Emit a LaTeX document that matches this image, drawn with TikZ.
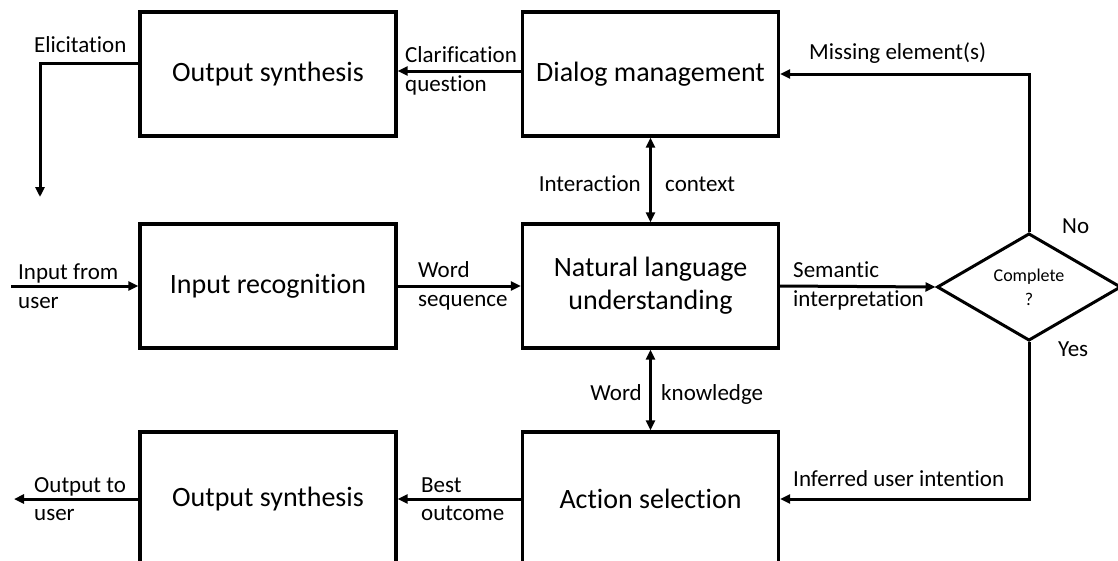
\documentclass[tikz,border=0pt]{standalone}
\usepackage{fontspec}
\setmainfont{Carlito}[Ligatures={NoCommon}]
\usetikzlibrary{arrows.meta,shapes.geometric}
\begin{document}
\begin{tikzpicture}[x=1pt,y=-1pt,
  box/.style={draw,line width=3.2pt,minimum width=256pt,minimum height=124pt,inner sep=0pt,
    align=center,font=\fontsize{28}{33}\selectfont},
  lbl/.style={inner sep=0pt,align=left,font=\fontsize{23}{28.5}\selectfont},
  conn/.style={line width=3pt,-{Triangle[length=10pt,width=9pt]}},
  dconn/.style={line width=3pt,{Triangle[length=10pt,width=9pt]}-{Triangle[length=10pt,width=9pt]}},
  plain/.style={line width=3pt}]
\useasboundingbox (0,0) rectangle (1118,560);
\clip (0,0) rectangle (1118,560);
% boxes
\node[box] (os1) at (268,74) {Output synthesis};
\node[box] (dm) at (650.5,74) {Dialog management};
\node[box] (ir) at (268,286) {Input recognition};
\node[box] (nlu) at (650.5,286) {Natural language\\understanding};
\node[box,minimum height=134pt] (os2) at (268,499) {Output synthesis};
\node[box,minimum height=134pt] (as) at (650.5,499) {Action selection};
\node[draw,diamond,line width=3pt,minimum width=184pt,minimum height=103pt,inner sep=0pt,
  align=center,font=\fontsize{18}{24}\selectfont] (dia) at (1029,287) {Complete\\?};
% free ends
\coordinate (elic) at (40,197);
\coordinate (inp) at (11,286);
\coordinate (outp) at (14,499);
% connectors
\draw[conn] ([yshift=3pt]dm.west) -- ([yshift=3pt]os1.east);
\draw[conn] ([yshift=11pt]os1.west) -| (elic);
\draw[dconn] (dm.south) -- (nlu.north);
\draw[dconn] (nlu.south) -- (as.north);
\draw[conn] (inp) -- (ir.west);
\draw[conn] (ir.east) -- (nlu.west);
\draw[conn] (nlu.east) -- (dia.west);
\draw[conn] (dia.north) |- (dm.east);
\draw[conn] (dia.south) |- (as.east);
\draw[conn] (as.west) -- (os2.east);
\draw[conn] (os2.west) -- (outp);
% labels
\node[lbl,anchor=base west] (l1) at (34,52) {Elicitation};
\node[lbl,anchor=west] (l2) at (405,71) {Clarification\\question};
\node[lbl,anchor=base west] (l3) at (809,59) {Missing element(s)};
\node[lbl,anchor=base east] (l4) at (641,191) {Interaction};
\node[lbl,anchor=base west] (l5) at (665,191) {context};
\node[lbl,anchor=west] (l6) at (18,286) {Input from\\user};
\node[lbl,anchor=west] (l7) at (418,286) {Word\\sequence};
\node[lbl,anchor=west] (l8) at (793,286) {Semantic\\interpretation};
\node[lbl,anchor=base west] (l9) at (1062,233) {No};
\node[lbl,anchor=base west] (l10) at (1058,356) {Yes};
\node[lbl,anchor=base east] (l11) at (642,400) {Word};
\node[lbl,anchor=base west] (l12) at (661,400) {knowledge};
\node[lbl,anchor=west] (l13) at (421,499) {Best\\outcome};
\node[lbl,anchor=west] (l14) at (34,499) {Output to\\user};
\node[lbl,anchor=base west] (l15) at (793,486) {Inferred user intention};
\end{tikzpicture}
\end{document}
